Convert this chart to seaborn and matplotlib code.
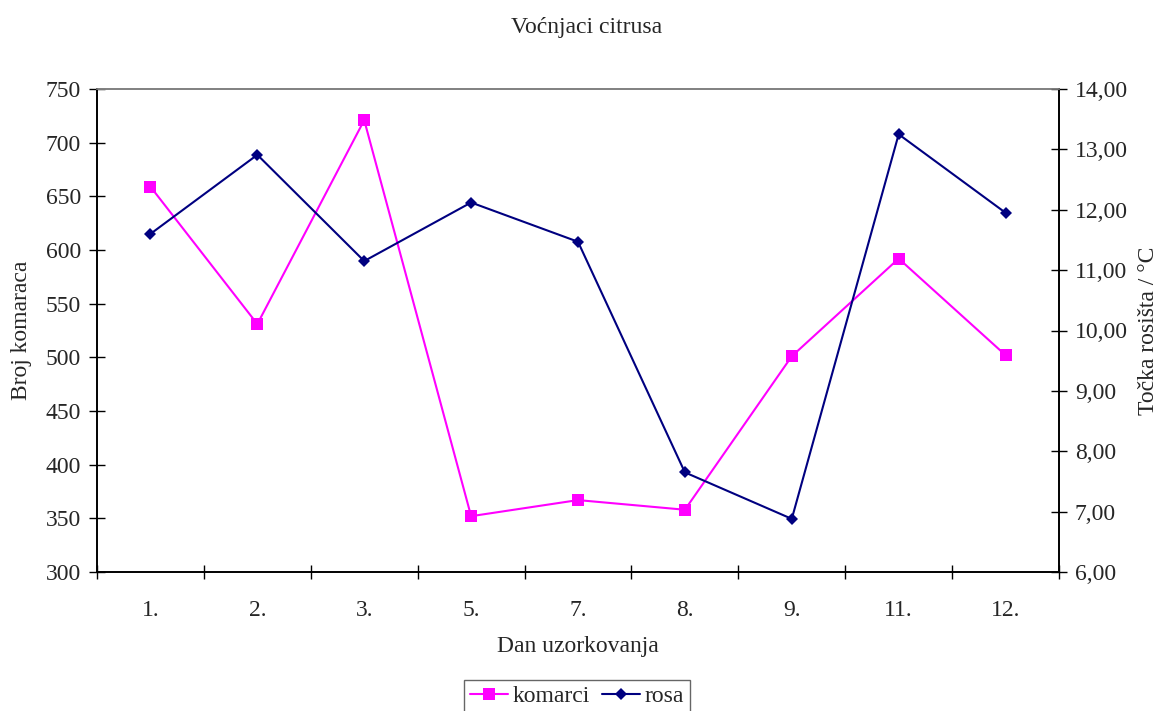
import numpy as np
import pandas as pd
import matplotlib
matplotlib.use('Agg')
from matplotlib import pyplot as plt
from matplotlib.ticker import FuncFormatter
import seaborn as sns


days = ['1.', '2.', '3.', '5.', '7.', '8.', '9.', '11.', '12.']
komarci = [659, 531, 721, 352, 367, 358, 501, 592, 502]
rosa = [11.60, 12.91, 11.15, 12.12, 11.47, 7.65, 6.88, 13.25, 11.95]

sns.set_style('white')
plt.rcParams['font.family'] = ['Liberation Serif', 'DejaVu Serif']
fs = 17

df = pd.DataFrame({'dan': days, 'komarci': komarci, 'rosa': rosa})

fig = plt.figure(figsize=(11.63, 7.11), dpi=100)
ax = fig.add_axes([97 / 1163, 1 - 572 / 711, 962 / 1163, 483 / 711])
ax2 = ax.twinx()

sns.lineplot(data=df, x='dan', y='komarci', ax=ax, sort=False,
             color='#ff00ff', marker='s', markersize=8, markeredgewidth=0,
             linewidth=1.5, label='komarci', legend=False)
sns.lineplot(data=df, x='dan', y='rosa', ax=ax2, sort=False,
             color='#000080', marker='D', markersize=6, markeredgewidth=0,
             linewidth=1.5, label='rosa', legend=False)

# axes ranges and ticks
ax.set_xlim(-0.5, len(days) - 0.5)
ax.set_ylim(300, 750)
ax.set_yticks(np.arange(300, 751, 50))
ax2.set_ylim(6, 14)
ax2.set_yticks(np.arange(6, 14.1, 1))
ax2.yaxis.set_major_formatter(FuncFormatter(lambda v, p: f'{v:.2f}'.replace('.', ',')))

ax.set_xticks(range(len(days)))
ax.set_xticklabels(days)
ax.set_xticks(np.arange(-0.5, len(days)), minor=True)
ax.tick_params(axis='x', which='major', length=0, pad=20, labelsize=fs)
ax.tick_params(axis='x', which='minor', direction='inout', length=10,
               width=1, color='black', bottom=True)
ax.tick_params(axis='y', direction='inout', length=11, width=1,
               color='black', left=True, pad=6, labelsize=fs)
ax2.tick_params(axis='y', direction='inout', length=11, width=1,
                color='black', right=True, pad=6, labelsize=fs)

for a in (ax, ax2):
    for side in ('left', 'right', 'bottom'):
        a.spines[side].set_color('black')
        a.spines[side].set_linewidth(1.2)
    a.spines['top'].set_color('#808080')
    a.spines['top'].set_linewidth(1.2)
    a.grid(False)

# labels
ax.set_xlabel('Dan uzorkovanja', fontsize=fs, va='center')
ax.xaxis.set_label_coords(0.5, -0.155)
ax.set_ylabel('Broj komaraca', fontsize=fs, va='center')
ax.yaxis.set_label_coords(-0.079, 0.50)
ax2.set_ylabel('Točka rosišta / °C', fontsize=fs, va='center')
ax2.yaxis.set_label_coords(1.093, 0.50)
fig.text(587 / 1163, 1 - 28 / 711, 'Voćnjaci citrusa', ha='center',
         va='center', fontsize=fs)

# legend below the plot
handles = ax.get_lines()[:1] + ax2.get_lines()[:1]
leg = fig.legend(handles, ['komarci', 'rosa'], loc='upper center',
                 bbox_to_anchor=(577 / 1163, 1 - 680 / 711), ncol=2,
                 frameon=True, fancybox=False, fontsize=fs,
                 handlelength=1.6, handletextpad=0.2, columnspacing=0.5,
                 borderpad=0.25, borderaxespad=0)
leg.get_frame().set_edgecolor('#404040')
leg.get_frame().set_linewidth(1.0)

plt.savefig('out.png', dpi=100)
